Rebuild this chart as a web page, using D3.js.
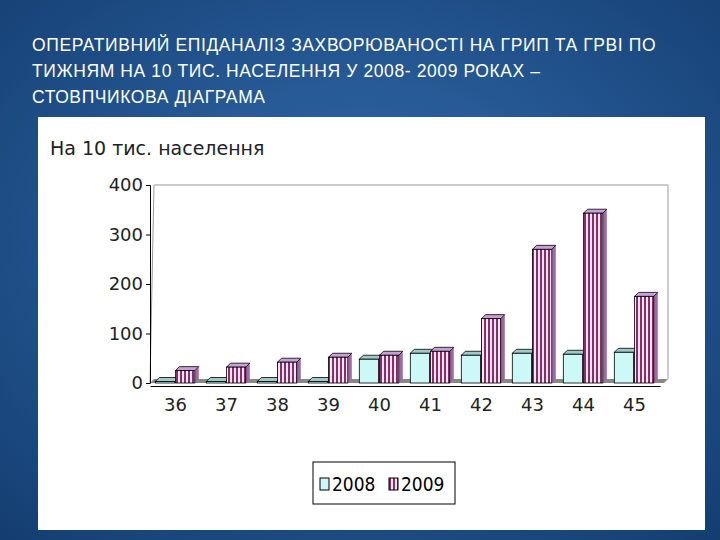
<!DOCTYPE html>
<html><head><meta charset="utf-8">
<script src="https://cdn.jsdelivr.net/npm/d3@7"></script>
<style>body{margin:0;background:#1f4f8a}</style>
</head><body>
<svg id="c" width="720" height="540"></svg>
<script>
// weeks and rates per 10k population
const weeks = ["36", "37", "38", "39", "40", "41", "42", "43", "44", "45"];
const y2008 = [3, 3, 3, 3, 48, 60, 56, 60, 58, 62];
const y2009 = [25, 32, 42, 52, 56, 64, 130, 270, 343, 175];
const yTicks = [0, 100, 200, 300, 400];
const titleLines = ["ОПЕРАТИВНИЙ ЕПІДАНАЛІЗ ЗАХВОРЮВАНОСТІ НА ГРИП ТА ГРВІ ПО",
  "ТИЖНЯМ  НА 10 ТИС. НАСЕЛЕННЯ У 2008- 2009 РОКАХ –", "СТОВПЧИКОВА ДІАГРАМА"];

const svg = d3.select("#c");
const defs = svg.append("defs");
const bg = defs.append("radialGradient").attr("id", "bg").attr("cx", "50%").attr("cy", "45%").attr("r", "75%");
bg.append("stop").attr("offset", "0%").attr("stop-color", "#336cae");
bg.append("stop").attr("offset", "100%").attr("stop-color", "#133d70");
svg.append("rect").attr("width", 720).attr("height", 540).attr("fill", "url(#bg)");

const pat = defs.append("pattern").attr("id", "stripe").attr("width", 4).attr("height", 4).attr("patternUnits", "userSpaceOnUse");
pat.append("rect").attr("width", 4).attr("height", 4).attr("fill", "#f4e6f4");
pat.append("rect").attr("width", 2).attr("height", 4).attr("fill", "#8a2d62");

svg.selectAll("text.title").data(titleLines).join("text")
  .attr("x", 32).attr("y", (d, i) => 51 + i * 26)
  .attr("fill", "#fff").attr("font-family", "Liberation Sans, Arial").attr("font-size", 17.5)
  .attr("letter-spacing", 0.6).text(d => d);

svg.append("rect").attr("x", 38).attr("y", 117).attr("width", 667).attr("height", 413).attr("fill", "#fff");
svg.append("text").attr("x", 50).attr("y", 155).attr("font-family", "DejaVu Sans").attr("font-size", 19)
  .attr("fill", "#222").text("На 10 тис. населення");

const x = d3.scaleBand().domain(weeks).range([150, 660]).paddingInner(0.1).paddingOuter(0.05);
const y = d3.scaleLinear().domain([0, 400]).range([383, 185]);
const dx = 4, dy = 4;

// back wall and floor
svg.append("path").attr("d", `M150,383 L154,${y(400)} L668,${y(400)} L668,379`).attr("fill", "none").attr("stroke", "#999");
svg.append("path").attr("d", "M150,383 L154,379 L668,379 L664,383 Z").attr("fill", "#888");

svg.append("g").attr("transform", "translate(150,0)")
  .call(d3.axisLeft(y).tickValues(yTicks).tickSize(4))
  .call(g => g.selectAll("text").attr("font-family", "DejaVu Sans").attr("font-size", 18).attr("fill", "#222"));
svg.append("g").attr("transform", "translate(0,386)")
  .call(d3.axisBottom(x).tickSize(0).tickPadding(12))
  .call(g => g.select(".domain").attr("stroke", "#000"))
  .call(g => g.selectAll("text").attr("font-family", "DejaVu Sans").attr("font-size", 18).attr("fill", "#222"));

const bw = x.bandwidth() * 0.42;
function bars(vals, off, fill, side, top) {
  const g = svg.append("g");
  weeks.forEach((w, i) => {
    const x0 = x(w) + off, y0 = y(vals[i]), h = y(0) - y0;
    g.append("path").attr("d", `M${x0 + bw},${y0} l${dx},${-dy} v${h} l${-dx},${dy} Z`).attr("fill", side);
    g.append("path").attr("d", `M${x0},${y0} l${dx},${-dy} h${bw} l${-dx},${dy} Z`).attr("fill", top).attr("stroke", "#000").attr("stroke-width", 0.8);
    g.append("rect").attr("x", x0).attr("y", y0).attr("width", bw).attr("height", h).attr("fill", fill).attr("stroke", "#000").attr("stroke-width", 0.8);
  });
}
bars(y2008, x.bandwidth() * 0.06, "#ccf8f8", "#7aa0a0", "#9fc8c8");
bars(y2009, x.bandwidth() * 0.5, "url(#stripe)", "#9a6aa8", "#c8a0d8");

// legend
const lg = svg.append("g").attr("transform", "translate(313,462)");
lg.append("rect").attr("width", 142).attr("height", 42).attr("fill", "#fff").attr("stroke", "#000");
lg.append("rect").attr("x", 7).attr("y", 16).attr("width", 9).attr("height", 12).attr("fill", "#ccf8f8").attr("stroke", "#000");
lg.append("text").attr("x", 19).attr("y", 29).attr("font-family", "DejaVu Sans Condensed, DejaVu Sans").attr("font-size", 19).text("2008");
lg.append("rect").attr("x", 76).attr("y", 16).attr("width", 9).attr("height", 12).attr("fill", "url(#stripe)").attr("stroke", "#000");
lg.append("text").attr("x", 88).attr("y", 29).attr("font-family", "DejaVu Sans Condensed, DejaVu Sans").attr("font-size", 19).text("2009");
</script>
</body></html>
